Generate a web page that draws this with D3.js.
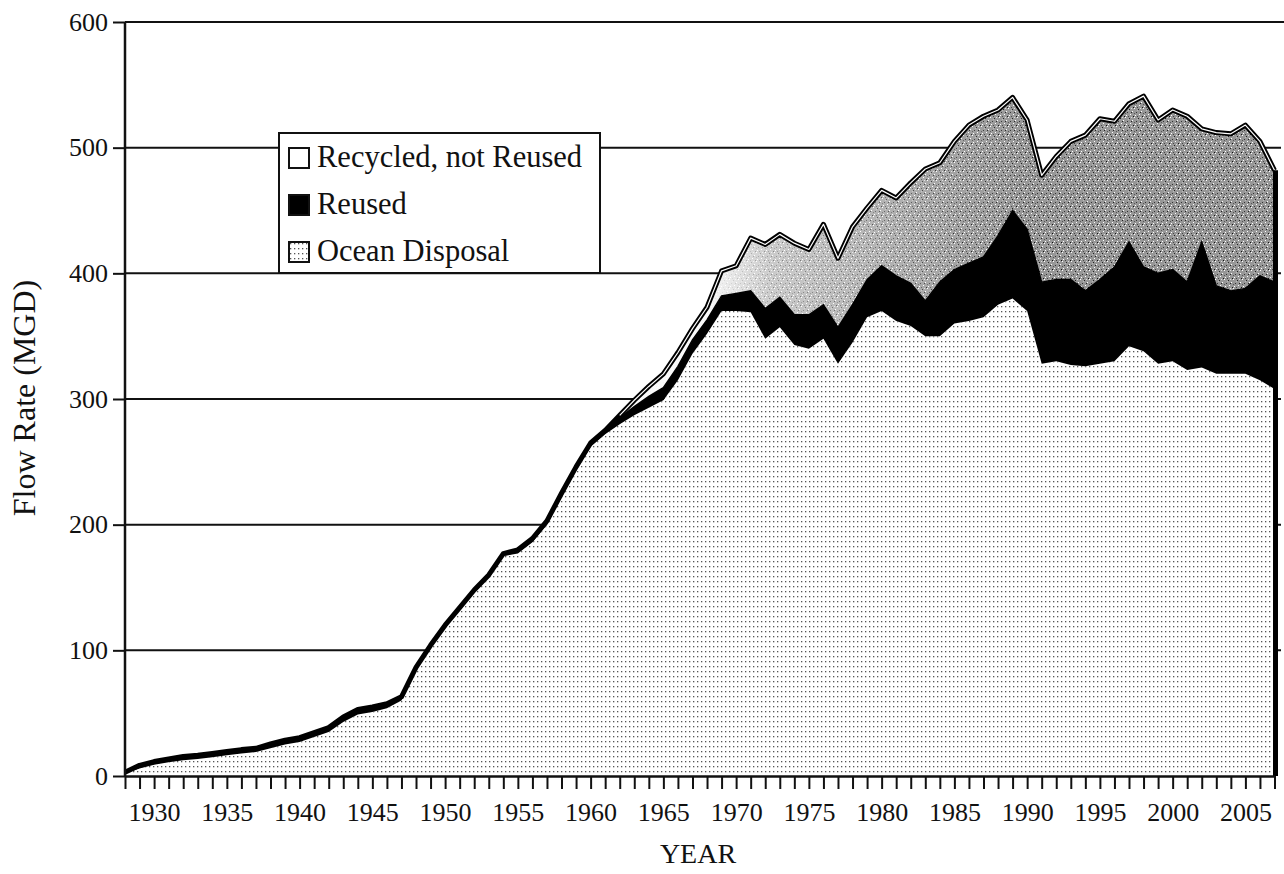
<!DOCTYPE html>
<html>
<head>
<meta charset="utf-8">
<script src="https://cdn.jsdelivr.net/npm/d3@7"></script>
<style>
body { margin: 0; background: #fff; }
text { font-family: "Liberation Serif", "Times New Roman", serif; fill: #111; }
</style>
</head>
<body>
<svg id="chart" width="1284" height="874"></svg>
<script>
// flow rates in MGD, one value per year 1928..2007
var years = d3.range(1928, 2008);

var oceanDisposal = [
    2, 6, 9, 11, 12.5, 13.5, 15, 16.5, 18, 19,
    22, 25, 27, 31, 35, 43, 49, 51, 54, 60,
    84, 102, 118, 132, 146, 158, 175, 177, 186, 200,
    222, 243, 262, 272, 280, 287, 293, 299, 315, 336,
    352, 370, 370, 369, 348, 357, 343, 340, 348, 328,
    345, 365, 370, 362, 358, 350, 350, 360, 362, 365,
    375, 380, 370, 328, 330, 327, 326, 328, 330, 342,
    338, 328, 330, 323, 325, 320, 320, 320, 315, 308
];

var reused = [
    1, 2.5, 2.5, 2.5, 3, 3, 3, 3, 3, 3,
    3.5, 3.5, 3.5, 3.5, 3.5, 4, 4, 4, 3.5, 3,
    2.5, 2, 2, 2, 2, 2, 2, 3, 3, 3,
    3, 3, 3, 3, 5, 7, 9, 10, 11, 11,
    11, 12, 14, 17, 24, 24, 24, 27, 27, 29,
    30, 30, 36, 36, 34, 28, 43, 43, 46, 48,
    55, 70, 65, 65, 65, 68, 60, 67, 75, 83,
    67, 72, 73, 70, 100, 70, 66, 68, 83, 85
];

var recycledNotReused = [
    0, 0, 0, 0, 0, 0, 0, 0, 0, 0,
    0, 0, 0, 0, 0, 0, 0, 0, 0, 0,
    0, 0, 0, 0, 0, 0, 0, 0, 0, 0,
    0, 0, 0, 0, 2, 5, 8, 11, 11, 9,
    10, 20, 22, 42, 51, 50, 57, 52, 64, 55,
    62, 57, 60, 62, 80, 105, 95, 102, 110, 112,
    100, 90, 87, 85, 98, 110, 124, 128, 116, 110,
    136, 122, 127, 132, 90, 122, 125, 130, 107, 89
];

var yTicks = [0, 100, 200, 300, 400, 500, 600];
var xLabels = [1930, 1935, 1940, 1945, 1950, 1955, 1960, 1965, 1970, 1975,
               1980, 1985, 1990, 1995, 2000, 2005];
var legendItems = ["Recycled, not Reused", "Reused", "Ocean Disposal"];

var table = years.map(function (yr, i) {
    return { year: yr, ocean: oceanDisposal[i], reused: reused[i], recycled: recycledNotReused[i] };
});

var svg = d3.select("#chart");

var x = d3.scaleLinear().domain([1928, 2007]).range([125, 1274.5]);
var y = d3.scaleLinear().domain([0, 600]).range([776, 22]);

// patterns
var defs = svg.append("defs");

var dots = defs.append("pattern")
    .attr("id", "dots")
    .attr("patternUnits", "userSpaceOnUse")
    .attr("width", 4).attr("height", 5);
dots.append("rect").attr("width", 4).attr("height", 5).attr("fill", "#fff");
dots.append("rect").attr("x", 1).attr("y", 1).attr("width", 1.3).attr("height", 1.3).attr("fill", "#555");

var speckle = defs.append("pattern")
    .attr("id", "speckle")
    .attr("patternUnits", "userSpaceOnUse")
    .attr("width", 9).attr("height", 9);
speckle.append("rect").attr("width", 9).attr("height", 9).attr("fill", "#979797");
[[0, 0, "#fff"], [4, 1, "#222"], [7, 3, "#fff"], [2, 4, "#333"], [5, 6, "#fff"],
 [1, 7, "#fff"], [8, 8, "#111"], [6, 0, "#ddd"], [3, 2, "#bbb"], [0, 5, "#555"],
 [6, 4, "#222"], [3, 8, "#444"]]
    .forEach(function (p) {
        speckle.append("rect").attr("x", p[0]).attr("y", p[1])
            .attr("width", 1).attr("height", 1).attr("fill", p[2]);
    });

// recycled band is pale in the early years, darker later
var fade = defs.append("linearGradient")
    .attr("id", "fade")
    .attr("gradientUnits", "userSpaceOnUse")
    .attr("x1", x(1968)).attr("x2", x(1990)).attr("y1", 0).attr("y2", 0);
[[0, 0.95], [0.2, 0.5], [0.5, 0.3], [0.8, 0.1], [1, 0]].forEach(function (s) {
    fade.append("stop").attr("offset", s[0]).attr("stop-color", "#fff").attr("stop-opacity", s[1]);
});

// gridlines behind the areas
svg.append("g").selectAll("line")
    .data(yTicks.filter(function (d) { return d > 0; }))
    .enter().append("line")
    .attr("x1", 125)
    .attr("x2", function (d) { return d === 600 ? 1284 : 1281; })
    .attr("y1", function (d) { return y(d); })
    .attr("y2", function (d) { return y(d); })
    .attr("stroke", "#111")
    .attr("stroke-width", 2);

var stack = d3.stack().keys(["ocean", "reused", "recycled"]);
var series = stack(table);

var area = d3.area()
    .x(function (d) { return x(d.data.year); })
    .y0(function (d) { return y(d[0]); })
    .y1(function (d) { return y(d[1]); });

var fills = { ocean: "url(#dots)", reused: "#000", recycled: "url(#speckle)" };

svg.append("g").selectAll("path")
    .data(series)
    .enter().append("path")
    .attr("d", area)
    .attr("fill", function (d) { return fills[d.key]; });

svg.append("path")
    .attr("d", area(series[2]))
    .attr("fill", "url(#fade)");

// boundary between reused and recycled
var line = d3.line()
    .x(function (d) { return x(d.data.year); })
    .y(function (d) { return y(d[1]); });

svg.append("path")
    .attr("d", line(series[1].filter(function (d) { return d.data.year >= 1961; })))
    .attr("fill", "none")
    .attr("stroke", "#000")
    .attr("stroke-width", 1.5);

// outline on top of the stack, double line once recycling starts
svg.append("path")
    .attr("d", line(series[2]))
    .attr("fill", "none")
    .attr("stroke", "#000")
    .attr("stroke-width", 5)
    .attr("stroke-linejoin", "round");

svg.append("path")
    .attr("d", line(series[2].filter(function (d) { return d.data.year >= 1962; })))
    .attr("fill", "none")
    .attr("stroke", "#fff")
    .attr("stroke-width", 1.2)
    .attr("stroke-linejoin", "round");

var last = series[2][series[2].length - 1];
svg.append("line")
    .attr("x1", x(last.data.year) + 1).attr("x2", x(last.data.year) + 1)
    .attr("y1", y(0)).attr("y2", y(last[1]))
    .attr("stroke", "#000")
    .attr("stroke-width", 5);

// axes
var yAxis = d3.axisLeft(y).tickValues(yTicks).tickSize(12).tickSizeOuter(0).tickPadding(5);
var xAxis = d3.axisBottom(x).tickValues(years).tickSize(13).tickSizeOuter(0).tickPadding(14)
    .tickFormat(function (d) { return xLabels.indexOf(d) >= 0 ? d : ""; });

var gy = svg.append("g").attr("transform", "translate(125,0)").call(yAxis);
var gx = svg.append("g").attr("transform", "translate(0,776)").call(xAxis);

[gx, gy].forEach(function (g) {
    g.select(".domain").attr("stroke", "#111").attr("stroke-width", 2.5);
    g.selectAll(".tick line").attr("stroke", "#111").attr("stroke-width", 2);
    g.selectAll(".tick text")
        .style("font-family", '"Liberation Serif", "Times New Roman", serif')
        .style("font-size", "26px")
        .attr("fill", "#111");
});
gy.select(".domain").attr("d", "M0," + y(0) + "V" + y(600));

// axis titles
svg.append("text")
    .attr("x", 698).attr("y", 863)
    .attr("text-anchor", "middle")
    .style("font-size", "28px")
    .text("YEAR");

svg.append("text")
    .attr("transform", "translate(35,398) rotate(-90)")
    .attr("text-anchor", "middle")
    .style("font-size", "32px")
    .text("Flow Rate (MGD)");

// legend
var legend = svg.append("g").attr("transform", "translate(279,133)");
legend.append("rect")
    .attr("width", 321).attr("height", 140)
    .attr("fill", "#fff").attr("stroke", "#111").attr("stroke-width", 2);

var swatchFills = ["#fff", "#000", "url(#dots)"];
var items = legend.selectAll("g.item")
    .data(legendItems)
    .enter().append("g")
    .attr("class", "item")
    .attr("transform", function (d, i) { return "translate(10," + (15 + i * 47) + ")"; });

items.append("rect")
    .attr("width", 20).attr("height", 20)
    .attr("fill", function (d, i) { return swatchFills[i]; })
    .attr("stroke", "#111").attr("stroke-width", 2);

items.append("text")
    .attr("x", 28).attr("y", 19)
    .style("font-size", "30.5px")
    .text(function (d) { return d; });
</script>
</body>
</html>
